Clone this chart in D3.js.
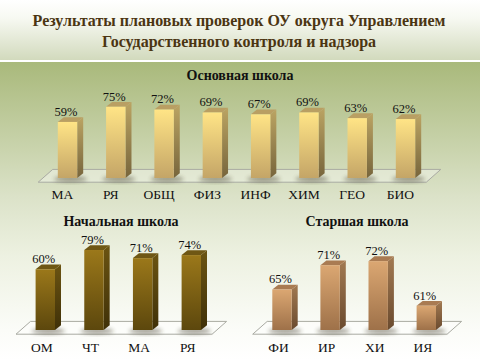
<!DOCTYPE html>
<html><head><meta charset="utf-8">
<script src="https://cdn.jsdelivr.net/npm/d3@7"></script>
<style>html,body{margin:0;padding:0;background:#fff;}svg{display:block;}</style>
</head><body>
<script>
// ---- data ----
const titleLines = ["Результаты плановых проверок ОУ округа  Управлением", "Государственного контроля и надзора"];

const mainTitle = "Основная школа";
const mainCats = ["МА", "РЯ", "ОБЩ", "ФИЗ", "ИНФ", "ХИМ", "ГЕО", "БИО"];
const mainVals = [59, 75, 72, 69, 67, 69, 63, 62];

const primTitle = "Начальная  школа";
const primCats = ["ОМ", "ЧТ", "МА", "РЯ"];
const primVals = [60, 79, 71, 74];

const highTitle = "Старшая  школа";
const highCats = ["ФИ", "ИР", "ХИ", "ИЯ"];
const highVals = [65, 71, 72, 61];

const FONT = "Liberation Serif, Tinos, Times New Roman, DejaVu Serif, Noto Serif, serif";

const W = 480, H = 360;
const svg = d3.select("body").append("svg").attr("width", W).attr("height", H);
const defs = svg.append("defs");

function vGrad(id, stops) {
  const g = defs.append("linearGradient").attr("id", id).attr("x1", 0).attr("y1", 0).attr("x2", 0).attr("y2", 1);
  stops.forEach(s => g.append("stop").attr("offset", s[0]).attr("stop-color", s[1]));
}
// backgrounds
vGrad("bgTop", [[0, "#ffffff"], [0.3, "#f7f9f2"], [1, "#d2dabd"]]);
vGrad("bgMain", [[0, "#a9b97b"], [0.45, "#dbe2c8"], [0.65, "#edf1e1"], [0.9, "#fbfcf8"], [1, "#ffffff"]]);
svg.append("rect").attr("x", 0).attr("y", 0).attr("width", W).attr("height", 60).attr("fill", "url(#bgTop)");
svg.append("rect").attr("x", 0).attr("y", 62).attr("width", W).attr("height", H - 62).attr("fill", "url(#bgMain)");
svg.append("rect").attr("x", 0).attr("y", 60).attr("width", W).attr("height", 2).attr("fill", "#ffffff");

// shadow blur
const f = defs.append("filter").attr("id", "blur").attr("x", "-50%").attr("y", "-50%").attr("width", "200%").attr("height", "200%");
f.append("feGaussianBlur").attr("stdDeviation", 2.2);

// title
svg.append("g").selectAll("text").data(titleLines).join("text")
  .attr("x", 239).attr("y", (d, i) => 26 + i * 20.5)
  .attr("text-anchor", "middle")
  .style("font-family", FONT)
  .attr("font-weight", "bold").attr("font-size", 16)
  .attr("fill", "#4b3512")
  .text(d => d);

const palettes = {
  main: { front: ["#ffe486", "#c4a567"], side: ["#bba463", "#77653c"], top: "#b99f63" },
  prim: { front: ["#9b781a", "#5c470d"], side: ["#6b5412", "#3f3008"], top: "#6f5714" },
  high: { front: ["#dba772", "#9e7149"], side: ["#a27a52", "#6a4a2e"], top: "#a97b52" }
};
Object.entries(palettes).forEach(([k, p]) => {
  vGrad("front_" + k, [[0, p.front[0]], [1, p.front[1]]]);
  vGrad("side_" + k, [[0, p.side[0]], [1, p.side[1]]]);
});

function panel(cfg) {
  const { cats, vals, title, key, xRange, yDomain, yRange, titleX, titleY, catOff, catY, labOff } = cfg;
  const x = d3.scalePoint().domain(cats).range(xRange);
  const y = d3.scaleLinear().domain(yDomain).range(yRange);
  const base = yRange[0];
  const bw = 19.4, dx = 6, dy = 4.8;
  const g = svg.append("g");

  g.append("text").attr("x", titleX).attr("y", titleY).attr("text-anchor", "middle")
    .style("font-family", FONT)
    .attr("font-weight", "bold").attr("font-size", 14).attr("fill", "#111")
    .text(title);

  // floor
  const xl = xRange[0] - 29.3, xr = xRange[1] + 20.8;
  const fb = base + 4.2, ft = base - 8.6, fdx = 14.5;
  g.append("path")
    .attr("d", `M${xl},${fb}L${xl + fdx},${ft}L${xr + fdx},${ft}L${xr},${fb}Z`)
    .attr("fill", "#ffffff").attr("fill-opacity", 0.35)
    .attr("stroke", "#a9aaa2").attr("stroke-width", 1);

  const bars = g.selectAll("g.bar").data(cats.map((c, i) => ({ c, v: vals[i] }))).join("g");
  // shadows
  bars.append("ellipse")
    .attr("cx", d => x(d.c) + 3).attr("cy", base + 1)
    .attr("rx", bw * 0.85).attr("ry", 3)
    .attr("fill", "#3a3520").attr("opacity", 0.45).attr("filter", "url(#blur)");
  // side
  bars.append("path")
    .attr("d", d => {
      const x1 = x(d.c) + bw / 2, t = y(d.v);
      return `M${x1},${t}L${x1 + dx},${t - dy}L${x1 + dx},${base - dy}L${x1},${base}Z`;
    })
    .attr("fill", `url(#side_${key})`);
  // top
  bars.append("path")
    .attr("d", d => {
      const x0 = x(d.c) - bw / 2, t = y(d.v);
      return `M${x0},${t}L${x0 + dx},${t - dy}L${x0 + bw + dx},${t - dy}L${x0 + bw},${t}Z`;
    })
    .attr("fill", palettes[key].top);
  // front
  bars.append("rect")
    .attr("x", d => x(d.c) - bw / 2).attr("y", d => y(d.v))
    .attr("width", bw).attr("height", d => base - y(d.v))
    .attr("fill", `url(#front_${key})`);
  // value labels
  bars.append("text")
    .attr("x", d => x(d.c) + labOff).attr("y", d => y(d.v) - 6.2)
    .attr("text-anchor", "middle")
    .style("font-family", FONT)
    .attr("font-size", 12.5).attr("fill", "#111")
    .text(d => d.v + "%");
  // category labels
  g.selectAll("text.cat").data(cats).join("text").attr("class", "cat")
    .attr("x", d => x(d) + catOff).attr("y", catY)
    .attr("text-anchor", "middle")
    .style("font-family", FONT)
    .attr("font-size", 13.5).attr("fill", "#111")
    .text(d => d);
}

panel({ cats: mainCats, vals: mainVals, title: mainTitle, key: "main",
  xRange: [67.5, 405.5], yDomain: [0, 80], yRange: [178, 102],
  titleX: 240, titleY: 80, catOff: -5, catY: 199, labOff: -1.5 });
panel({ cats: primCats, vals: primVals, title: primTitle, key: "prim",
  xRange: [45.3, 191.3], yDomain: [0, 80], yRange: [330, 249],
  titleX: 121, titleY: 226, catOff: -3.5, catY: 351.5, labOff: -1.5 });
panel({ cats: highCats, vals: highVals, title: highTitle, key: "high",
  xRange: [282, 426.3], yDomain: [55, 75], yRange: [330, 249],
  titleX: 357, titleY: 226, catOff: -3.5, catY: 351.5, labOff: -1.5 });
</script>
</body></html>
